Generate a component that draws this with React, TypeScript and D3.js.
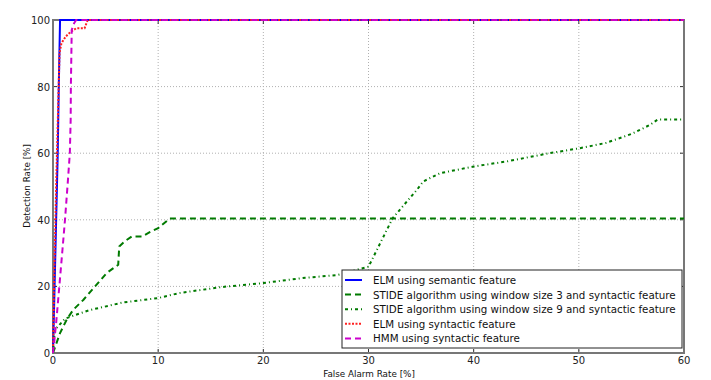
import React, { useEffect, useRef } from "react";
import * as d3 from "d3";

type P = [number, number];

const xTicks = [0, 10, 20, 30, 40, 50, 60];
const yTicks = [0, 20, 40, 60, 80, 100];

const elmSemantic: P[] = [[0, 0], [0.15, 20], [0.3, 40], [0.45, 60], [0.55, 80], [0.67, 100], [60, 100]];
const stide3: P[] = [[0, 0], [0.67, 6], [1.3, 10], [1.93, 13], [2.9, 16], [4.0, 20], [5.1, 24], [6.2, 26.5], [6.3, 32], [6.84, 33.6], [7.5, 35], [8.5, 35], [9.2, 36.3], [10, 37.5], [11.1, 40.4], [60, 40.4]];
const stide9: P[] = [[0, 0], [0.19, 7], [1.14, 10.3], [2.1, 11.4], [3.5, 12.9], [6.7, 15.2], [10, 16.5], [12, 18], [16, 19.8], [20, 21], [24, 22.6], [27, 23.4], [30, 25.9], [32.3, 40.5], [34.6, 49], [35.2, 51.5], [36.8, 54], [40, 56], [43.1, 57.5], [47.2, 60], [50.1, 61.5], [52.6, 63.1], [55.1, 65.9], [56.7, 68.4], [57.5, 70.1], [60, 70.1]];
const elmSyntactic: P[] = [[0, 0], [0.1, 20], [0.3, 50], [0.5, 75], [0.62, 90], [0.8, 93], [1.2, 95], [1.7, 96.5], [2.2, 97.5], [3.0, 97.5], [3.3, 100], [60, 100]];
const hmm: P[] = [[0, 0], [0.3, 9], [0.6, 20], [0.9, 31], [1.14, 40], [1.4, 51], [1.6, 60], [1.68, 70], [1.7, 80], [1.78, 97], [2.0, 99], [2.2, 100], [60, 100]];

const seriesNames = [
  "ELM using semantic feature",
  "STIDE algorithm using window size 3 and syntactic feature",
  "STIDE algorithm using window size 9 and syntactic feature",
  "ELM using syntactic feature",
  "HMM using syntactic feature",
];

export default function App() {
  const ref = useRef<SVGSVGElement>(null);
  useEffect(() => {
    const svg = d3.select(ref.current);
    svg.selectAll("*").remove();
    const L = 53, R = 684, T = 20, B = 353;
    const x = d3.scaleLinear().domain([0, 60]).range([L, R]);
    const y = d3.scaleLinear().domain([0, 100]).range([B, T]);
    const font = "DejaVu Sans, sans-serif";

    svg.append("rect").attr("width", 711).attr("height", 380).attr("fill", "white");

    // grid
    const g = svg.append("g");
    xTicks.slice(1, -1).forEach((t) => {
      g.append("line").attr("x1", x(t)).attr("x2", x(t)).attr("y1", T).attr("y2", B)
        .attr("stroke", "#b0b0b0").attr("stroke-width", 1).attr("stroke-dasharray", "1,2");
    });
    yTicks.slice(1, -1).forEach((t) => {
      g.append("line").attr("x1", L).attr("x2", R).attr("y1", y(t)).attr("y2", y(t))
        .attr("stroke", "#b0b0b0").attr("stroke-width", 1).attr("stroke-dasharray", "1,2");
    });

    // ticks (inward)
    xTicks.forEach((t) => {
      g.append("line").attr("x1", x(t)).attr("x2", x(t)).attr("y1", B).attr("y2", B - 4).attr("stroke", "#333");
      g.append("line").attr("x1", x(t)).attr("x2", x(t)).attr("y1", T).attr("y2", T + 4).attr("stroke", "#333");
      g.append("text").attr("x", x(t)).attr("y", B + 11).attr("text-anchor", "middle")
        .attr("font-family", font).attr("font-size", 10).attr("fill", "#222").text(String(t));
    });
    yTicks.forEach((t) => {
      g.append("line").attr("x1", L).attr("x2", L + 4).attr("y1", y(t)).attr("y2", y(t)).attr("stroke", "#333");
      g.append("line").attr("x1", R).attr("x2", R - 4).attr("y1", y(t)).attr("y2", y(t)).attr("stroke", "#333");
      g.append("text").attr("x", L - 3).attr("y", y(t) + 4).attr("text-anchor", "end")
        .attr("font-family", font).attr("font-size", 10).attr("fill", "#222").text(String(t));
    });

    // spines
    svg.append("rect").attr("x", L).attr("y", T).attr("width", R - L).attr("height", B - T)
      .attr("fill", "none").attr("stroke", "#777").attr("stroke-width", 2);

    const line = d3.line<P>().x((d) => x(d[0])).y((d) => y(d[1]));
    const styles = [
      { data: elmSemantic, color: "#0000ff", dash: null as string | null },
      { data: stide3, color: "#007a00", dash: "6,4" },
      { data: stide9, color: "#007a00", dash: "3,3,1,3" },
      { data: elmSyntactic, color: "#ff2020", dash: "2,1.5" },
      { data: hmm, color: "#cc00cc", dash: "6,4" },
    ];
    styles.forEach((s) => {
      const p = svg.append("path").attr("d", line(s.data)).attr("fill", "none")
        .attr("stroke", s.color).attr("stroke-width", 2);
      if (s.dash) p.attr("stroke-dasharray", s.dash);
    });

    // legend
    const lx = 342, ly = 270, lw = 340, lh = 78;
    svg.append("rect").attr("x", lx).attr("y", ly).attr("width", lw).attr("height", lh)
      .attr("fill", "white").attr("stroke", "#222").attr("stroke-width", 1);
    styles.forEach((s, i) => {
      const yy = 280 + i * 14.6;
      const ln = svg.append("line").attr("x1", 345).attr("x2", 362).attr("y1", yy).attr("y2", yy)
        .attr("stroke", s.color).attr("stroke-width", 2);
      if (s.dash) ln.attr("stroke-dasharray", s.dash);
      svg.append("text").attr("x", 373).attr("y", yy + 4).attr("font-family", font)
        .attr("font-size", 10.3).attr("fill", "#111").text(seriesNames[i]);
    });

    // axis labels
    svg.append("text").attr("x", 369).attr("y", 377).attr("text-anchor", "middle")
      .attr("font-family", font).attr("font-size", 8.8).attr("fill", "#111").text("False Alarm Rate [%]");
    svg.append("text").attr("transform", `translate(30,186) rotate(-90)`).attr("text-anchor", "middle")
      .attr("font-family", font).attr("font-size", 8.8).attr("fill", "#111").text("Detection Rate [%]");
  }, []);
  return (
    <svg ref={ref} width={711} height={380} style={{ position: "absolute", left: 0, top: 0 }} />
  );
}
